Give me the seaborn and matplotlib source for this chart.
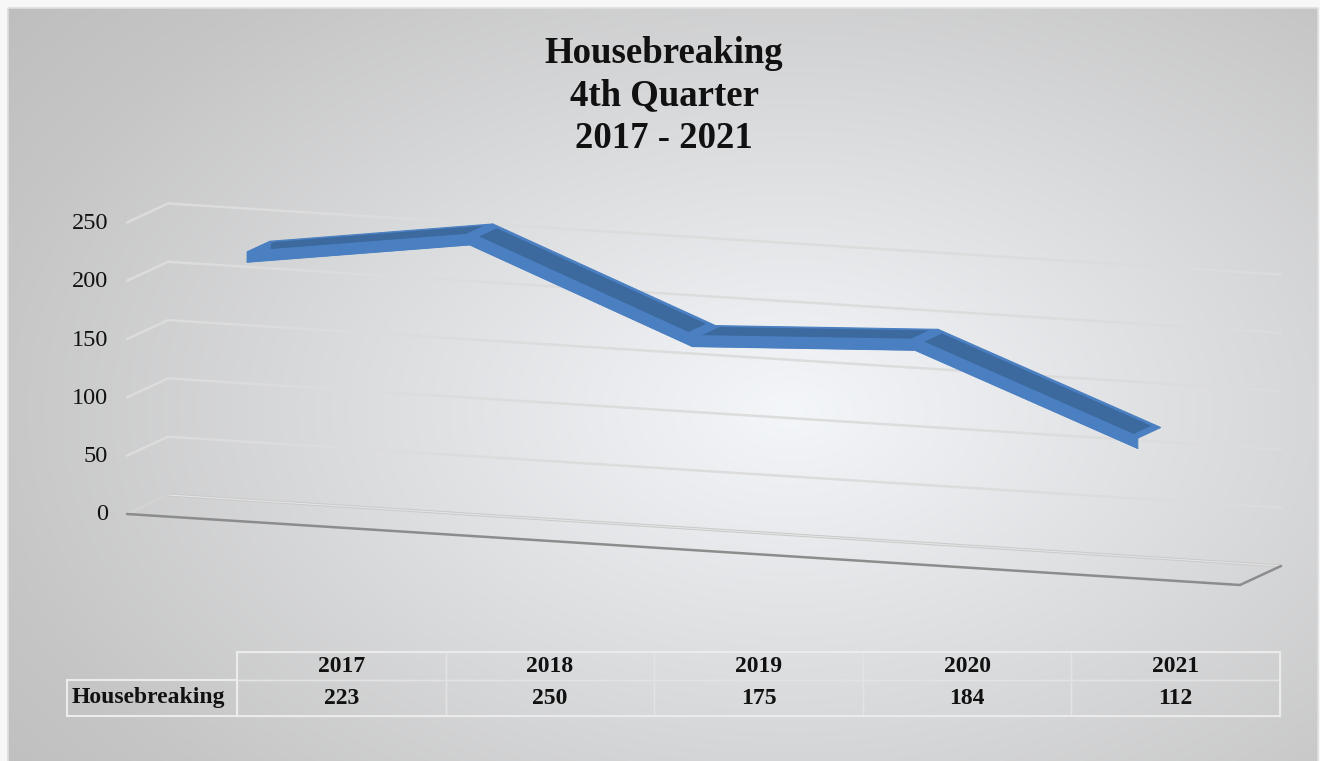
import numpy as np
import pandas as pd
import matplotlib
matplotlib.use("Agg")
import matplotlib.pyplot as plt
from matplotlib.transforms import Affine2D
from matplotlib.patches import Rectangle
import seaborn as sns

# data
years = ["2017", "2018", "2019", "2020", "2021"]
housebreaking = [223, 250, 175, 184, 112]
y_ticks = [0, 50, 100, 150, 200, 250]
series_name = "Housebreaking"
title_text = "Housebreaking\n4th Quarter\n2017 - 2021"

sns.set_theme(style="white")
plt.rcParams['font.family'] = ['Liberation Serif', 'DejaVu Serif']

W, H = 1320, 761
fig = plt.figure(figsize=(W / 100, H / 100), dpi=100, facecolor='#f7f7f7')
ax = fig.add_axes([0, 0, 1, 1])
ax.set_xlim(0, W)
ax.set_ylim(H, 0)
ax.axis('off')

# radial gradient backdrop
gx, gy = np.meshgrid(np.linspace(8, 1318, 660), np.linspace(8, 761, 380))
dist = np.sqrt(((gx - 790) / 820) ** 2 + ((gy - 410) / 520) ** 2)
stops = [0, 1.0, 1.5]
r = np.interp(dist, stops, [0.955, 0.775, 0.715])
g = np.interp(dist, stops, [0.965, 0.775, 0.712])
b = np.interp(dist, stops, [0.980, 0.775, 0.712])
ax.imshow(np.dstack([r, g, b]), extent=(8, 1318, 761, 8), aspect='auto', zorder=0)
ax.add_patch(Rectangle((8, 8), 1310, 760, fill=False, ec='#dedede', lw=1.2, zorder=1))

# oblique "3D" projection: (category, value) on the front plane, plus a depth shift
cat_w, cat_dy, v_px = 222.6, 14.2, 1.166
x0, y0 = 127, 514
depth_dx, depth_dy = 41, -19
front = Affine2D.from_values(cat_w, cat_dy, 0, -v_px, x0, y0)


def depth(t):
    return Affine2D().translate(depth_dx * t, depth_dy * t)


def side(cat):
    # plane across the categories, x input is depth 0..1
    return Affine2D.from_values(depth_dx, depth_dy, 0, -v_px,
                                x0 + cat * cat_w, y0 + cat * cat_dy)


def to_px(c, v, t):
    p = front.transform(np.column_stack([c, v]))
    t = np.broadcast_to(np.asarray(t, float), (len(p),))
    return p + np.column_stack([t * depth_dx, t * depth_dy])


n = len(years)
grid_c = '#dcdcdc'
for v in y_ticks[1:]:
    ax.plot([0, n], [v, v], transform=front + depth(1) + ax.transData, color=grid_c, lw=1.8, zorder=2)
    ax.plot([0, 1], [v, v], transform=side(0) + ax.transData, color=grid_c, lw=1.8, zorder=2)

# floor
ax.plot([0, n], [0, 0], transform=front + depth(1) + ax.transData, color='#c9c9c9', lw=2.2, zorder=2)
ax.plot([0, n], [0, 0], transform=front + depth(1) + ax.transData, color='#e4e4e4', lw=0.8, zorder=2)
ax.plot([0, 1], [0, 0], transform=side(0) + ax.transData, color='#d4d4d4', lw=1.5, zorder=2)
ax.plot([0, 1], [0, 0], transform=side(n) + ax.transData, color='#8c8c8c', lw=1.8, zorder=2)
ax.plot([0, n], [0, 0], transform=front + ax.transData, color='#8c8c8c', lw=1.8, zorder=2)

# y labels
for v in y_ticks:
    px, py = front.transform((0, v))
    ax.text(px - 19, py + 1, str(v), ha='right', va='center', fontsize=17.5, color='#111111', zorder=3)

# ribbon line
light = '#4a7fc1'
dark = '#3c699e'
cats = np.arange(n) + 0.5
vals = np.array(housebreaking, float)
hv = 10 / v_px
t1, t2 = 0.22, 0.78
ins_t, ins_c = 0.065, 0.03

for i in range(n - 1):
    c = [cats[i], cats[i + 1], cats[i + 1], cats[i]]
    va, vb = vals[i] + hv / 2, vals[i + 1] + hv / 2
    top = to_px(c, [va, vb, vb, va], [t1, t1, t2, t2])
    ax.fill(top[:, 0], top[:, 1], color=light, lw=0.8, ec=light, zorder=4)

for i in range(n - 1):
    ca, cb = cats[i] + ins_c, cats[i + 1] - ins_c
    va = np.interp(ca, cats[i:i + 2], vals[i:i + 2]) + hv / 2
    vb = np.interp(cb, cats[i:i + 2], vals[i:i + 2]) + hv / 2
    inner = to_px([ca, cb, cb, ca], [va, vb, vb, va],
                  [t1 + ins_t, t1 + ins_t, t2 - ins_t, t2 - ins_t])
    ax.fill(inner[:, 0], inner[:, 1], color=dark, lw=0, zorder=5)

for i in range(n - 1):
    c = [cats[i], cats[i + 1], cats[i + 1], cats[i]]
    fr = to_px(c, [vals[i] + hv / 2, vals[i + 1] + hv / 2, vals[i + 1] - hv / 2, vals[i] - hv / 2], t1)
    ax.fill(fr[:, 0], fr[:, 1], color=light, lw=0.8, ec=light, zorder=6)

cap = to_px([cats[0]] * 4, [vals[0] + hv / 2, vals[0] + hv / 2, vals[0] - hv / 2, vals[0] - hv / 2],
            [t1, t2, t2, t1])
ax.fill(cap[:, 0], cap[:, 1], color=light, lw=0.8, ec=light, zorder=6)

line_df = pd.DataFrame({"cat": cats, "value": vals - hv / 2})
sns.lineplot(data=line_df, x="cat", y="value", sort=False, color=light, lw=1.2,
             transform=front + depth(t1) + ax.transData, ax=ax, zorder=7)
ax.set_xlim(0, W)
ax.set_ylim(H, 0)
ax.set_xlabel('')
ax.set_ylabel('')

# title
ax.text(664, 96, title_text, ha='center', va='center', fontsize=26.5, fontweight='bold',
        linespacing=1.27, color='#111111', zorder=8)

# data table
tbl_left, tbl_right = 237, 1280
hdr_top, hdr_bot, row_bot = 652, 680, 716
lbl_left = 67
col_w = (tbl_right - tbl_left) / n
for k, (yr, val) in enumerate(zip(years, housebreaking)):
    xl = tbl_left + k * col_w
    ax.add_patch(Rectangle((xl, hdr_top), col_w, hdr_bot - hdr_top, fill=False, ec='#e3e3e3', lw=1, zorder=8))
    ax.add_patch(Rectangle((xl, hdr_bot), col_w, row_bot - hdr_bot, fill=False, ec='#e3e3e3', lw=1, zorder=8))
    ax.text(xl + col_w / 2, (hdr_top + hdr_bot) / 2 + 1, yr, ha='center', va='center',
            fontsize=17, fontweight='bold', color='#111111', zorder=9)
    ax.text(xl + col_w / 2, (hdr_bot + row_bot) / 2, str(val), ha='center', va='center',
            fontsize=17, fontweight='bold', color='#111111', zorder=9)
ax.add_patch(Rectangle((lbl_left, hdr_bot), tbl_left - lbl_left, row_bot - hdr_bot, fill=False,
                       ec='#ececec', lw=1.5, zorder=8))
ax.add_patch(Rectangle((tbl_left, hdr_top), tbl_right - tbl_left, row_bot - hdr_top, fill=False,
                       ec='#ececec', lw=1.4, zorder=8))
ax.text(lbl_left + 5, (hdr_bot + row_bot) / 2, series_name, ha='left', va='center',
        fontsize=17, fontweight='bold', color='#111111', zorder=9)

fig.savefig('out.png', dpi=100, facecolor=fig.get_facecolor())
